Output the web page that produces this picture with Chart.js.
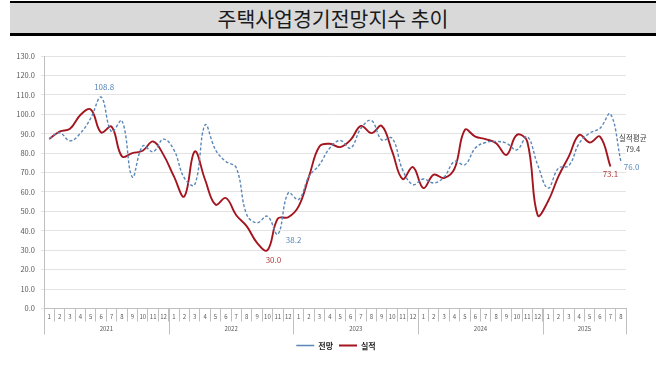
<!DOCTYPE html>
<html><head><meta charset="utf-8">
<script src="https://cdn.jsdelivr.net/npm/chart.js@4.4.1/dist/chart.umd.min.js"></script>
<style>
html,body{margin:0;padding:0;background:#fff;}
#wrap{position:relative;width:656px;height:380px;overflow:hidden;}
#title{position:absolute;left:10px;top:1px;width:646px;height:30px;background:#d9d9d9;border-top:2px solid #000;border-bottom:3px solid #000;font-family:'Noto Sans CJK KR',sans-serif;font-size:20.5px;line-height:30px;text-align:center;color:#1a1a1a;}
canvas{position:absolute;left:0;top:0;}
</style></head><body>
<div id="wrap"><canvas id="c" width="656" height="380"></canvas><div id="title">주택사업경기전망지수 추이</div></div>
<script>
// ---- data ----
const yearLabels = ['2021','2022','2023','2024','2025'];
const yearMonthCounts = [12,12,12,12,8];
const monthLabels = [
 '1','2','3','4','5','6','7','8','9','10','11','12',
 '1','2','3','4','5','6','7','8','9','10','11','12',
 '1','2','3','4','5','6','7','8','9','10','11','12',
 '1','2','3','4','5','6','7','8','9','10','11','12',
 '1','2','3','4','5','6','7','8'];
const forecast = [
 87.5, 90.5, 86.3, 90.2, 98.0, 108.8, 91.0, 96.7, 67.7, 83.7, 80.7, 87.2,
 81.7, 67.2, 63.7, 94.5, 81.7, 75.7, 72.5, 48.4, 44.1, 47.5, 38.2, 59.5,
 56.1, 68.0, 74.0, 82.6, 86.5, 82.6, 92.8, 96.8, 86.8, 87.7, 71.5, 63.8,
 66.7, 64.6, 67.7, 75.7, 74.0, 82.6, 85.5, 86.0, 85.1, 81.7, 88.5, 74.0,
 62.0, 72.3, 73.5, 85.1, 90.3, 92.8, 100.2, 76.0];
const actual = [
 87.3, 91.1, 92.5, 99.6, 102.5, 90.6, 93.6, 78.3, 80.0, 81.2, 86.0, 79.1,
 68.0, 57.7, 80.8, 66.3, 53.5, 56.9, 48.0, 42.4, 33.8, 30.0, 46.3, 47.0,
 52.6, 68.0, 83.4, 84.8, 83.1, 86.8, 94.0, 90.3, 94.0, 80.9, 66.7, 72.8,
 62.0, 68.9, 67.2, 72.0, 92.0, 88.5, 87.2, 85.1, 79.1, 89.4, 86.0, 48.0,
 55.2, 68.0, 78.3, 89.4, 85.5, 88.5, 73.1];
const seriesNames = ['전망','실적'];
const actualAverageLabel = '실적평균';
const actualAverage = 79.4;

const BLUE = '#5a87b9', RED = '#a3151f', FONT = "'Noto Sans CJK KR', sans-serif";

const labelPlugin = {
  id: 'valueLabels',
  afterDatasetsDraw(chart) {
    const ctx = chart.ctx;
    const mF = chart.getDatasetMeta(0), mA = chart.getDatasetMeta(1);
    const put = (meta, i, text, dx, dy, align, color) => {
      const p = meta.data[i];
      ctx.fillStyle = color; ctx.textAlign = align;
      ctx.fillText(text, p.x + dx, p.y + dy);
    };
    ctx.save();
    ctx.font = '8px ' + FONT; ctx.textBaseline = 'middle';
    const fMax = forecast.indexOf(Math.max(...forecast));
    const fMin = forecast.indexOf(Math.min(...forecast));
    const aMin = actual.indexOf(Math.min(...actual));
    const fLast = forecast.length - 1, aLast = actual.length - 1;
    put(mF, fMax, forecast[fMax].toFixed(1), 3, -10, 'center', BLUE);
    put(mF, fMin, forecast[fMin].toFixed(1), 8, 6, 'left', BLUE);
    put(mA, aMin, actual[aMin].toFixed(1), 6, 10, 'center', '#b03a3a');
    put(mA, aLast, actual[aLast].toFixed(1), 0, 7, 'center', '#b03a3a');
    put(mF, fLast, forecast[fLast].toFixed(1), 3, 6, 'left', BLUE);
    const p = mF.data[fLast];
    ctx.font = '7.5px ' + FONT;
    ctx.fillStyle = '#404040'; ctx.textAlign = 'center';
    ctx.fillText(actualAverageLabel, p.x + 12, 138.5);
    ctx.fillText(actualAverage.toFixed(1), p.x + 12, 149);
    ctx.restore();
  }
};

const yearAxisPlugin = {
  id: 'yearAxis',
  afterLayout(chart) {
    // center the legend under the whole canvas like the reference
    if (chart.legend) { chart.legend.left += 23; chart.legend.right += 23; }
  },
  afterDraw(chart) {
    const ctx = chart.ctx, xs = chart.scales.x, ca = chart.chartArea;
    const w = xs.getPixelForValue(1) - xs.getPixelForValue(0);
    ctx.save();
    ctx.strokeStyle = '#bfbfbf'; ctx.lineWidth = 1;
    ctx.fillStyle = '#595959'; ctx.font = '6px ' + FONT;
    ctx.textAlign = 'center'; ctx.textBaseline = 'middle';
    let start = 0;
    const vline = (x) => { const xx = Math.round(x) + 0.5; ctx.beginPath(); ctx.moveTo(xx, ca.bottom); ctx.lineTo(xx, ca.bottom + 26); ctx.stroke(); };
    yearLabels.forEach((yl, k) => {
      const left = xs.getPixelForValue(start) - w / 2;
      const right = left + yearMonthCounts[k] * w;
      vline(left);
      ctx.fillText(yl, (left + right) / 2, ca.bottom + 20);
      start += yearMonthCounts[k];
      if (k === yearLabels.length - 1) vline(right);
    });
    ctx.restore();
  }
};

new Chart(document.getElementById('c'), {
  type: 'line',
  data: {
    labels: monthLabels,
    datasets: [
      { label: seriesNames[0], data: forecast, borderColor: BLUE, backgroundColor: BLUE,
        borderWidth: 1.4, borderDash: [3, 2], pointRadius: 0, tension: 0.4, fill: false },
      { label: seriesNames[1], data: actual, borderColor: RED, backgroundColor: RED,
        borderWidth: 1.9, pointRadius: 0, tension: 0.4, fill: false }
    ]
  },
  options: {
    responsive: false, animation: false,
    layout: { padding: { top: 56, right: 30, left: 0, bottom: 20.5 } },
    plugins: {
      legend: {
        position: 'bottom',
        labels: { usePointStyle: true, pointStyle: 'line', pointStyleWidth: 18, padding: 6,
          color: '#222', font: { family: FONT, size: 8, weight: 'bold' } }
      },
      tooltip: { enabled: false }
    },
    scales: {
      x: {
        offset: true,
        grid: { offset: true, drawOnChartArea: false, drawTicks: true, tickLength: 13, color: '#bfbfbf' },
        border: { display: true, color: '#bfbfbf' },
        ticks: { autoSkip: false, maxRotation: 0, padding: -8, color: '#595959', font: { family: FONT, size: 6 } },
        afterFit: (s) => { s.height = 27; }
      },
      y: {
        min: 0, max: 130,
        grid: { color: '#e3e3e3', tickLength: 3, drawTicks: true },
        border: { display: true, color: '#bfbfbf' },
        ticks: { stepSize: 10, padding: 6, color: '#595959', font: { family: FONT, size: 7.5 },
          callback: (v) => Number(v).toFixed(1) },
        afterFit: (s) => { s.width = 44; }
      }
    }
  },
  plugins: [labelPlugin, yearAxisPlugin]
});
</script>
</body></html>
